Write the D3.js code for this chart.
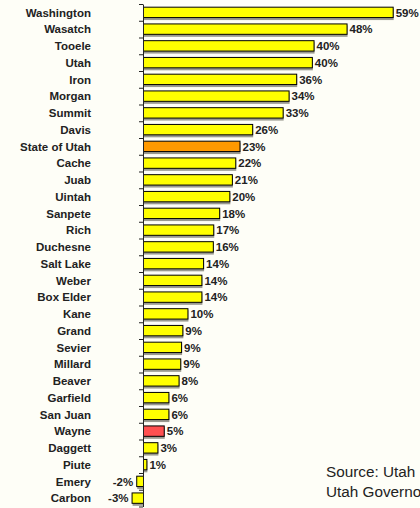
<!DOCTYPE html>
<html>
<head>
<meta charset="utf-8">
<script src="https://cdn.jsdelivr.net/npm/d3@7"></script>
<style>
  html, body { margin: 0; padding: 0; background: #fefef7; }
  svg { display: block; }
  text { font-family: "Liberation Sans", Arial, sans-serif; }
</style>
</head>
<body>
<svg id="chart" width="420" height="508"></svg>
<script>
const categories = ["Washington","Wasatch","Tooele","Utah","Iron","Morgan","Summit","Davis","State of Utah","Cache","Juab","Uintah","Sanpete","Rich","Duchesne","Salt Lake","Weber","Box Elder","Kane","Grand","Sevier","Millard","Beaver","Garfield","San Juan","Wayne","Daggett","Piute","Emery","Carbon"];
const values = [59.0, 48.1, 40.3, 39.9, 36.2, 34.4, 33.0, 25.8, 22.8, 21.8, 21.0, 20.4, 18.0, 16.6, 16.5, 14.2, 13.8, 13.8, 10.5, 9.3, 9.0, 8.8, 8.4, 6.0, 6.0, 4.9, 3.4, 0.8, -1.6, -2.7];
const labels = ["59%","48%","40%","40%","36%","34%","33%","26%","23%","22%","21%","20%","18%","17%","16%","14%","14%","14%","10%","9%","9%","9%","8%","6%","6%","5%","3%","1%","-2%","-3%"];
const sourceLines = ["Source: Utah Population Estimates Committee", "Utah Governor's Office of Planning and Budget"];

const data = categories.map((c, i) => ({ name: c, value: values[i], label: labels[i] }));
const fillFor = name => name === "State of Utah" ? "#ff9900" : (name === "Wayne" ? "#ff5050" : "#ffff00");

const svg = d3.select("#chart");
const yTop = 4, yBottom = 506.5;

const x = d3.scaleLinear().domain([-5, 60]).range([121.84, 396.92]);
const y = d3.scaleBand().domain(categories).range([yTop, yBottom]).paddingInner(0.32).paddingOuter(0.16);
const yIdx = d3.scaleLinear().domain([0, categories.length]).range([yTop, yBottom]);

// shadows
svg.append("g").selectAll("rect").data(data).join("rect")
  .attr("x", d => Math.min(x(0), x(d.value)) + 1)
  .attr("y", d => y(d.name) + 2)
  .attr("width", d => Math.abs(x(d.value) - x(0)))
  .attr("height", y.bandwidth())
  .attr("fill", "#9a9a90");

// bars
svg.append("g").selectAll("rect").data(data).join("rect")
  .attr("x", d => Math.min(x(0), x(d.value)) + 0.5)
  .attr("y", d => y(d.name) + 0.5)
  .attr("width", d => Math.abs(x(d.value) - x(0)))
  .attr("height", y.bandwidth() - 1)
  .attr("fill", d => fillFor(d.name))
  .attr("stroke", "#000")
  .attr("stroke-width", 1);

// axis
const axis = svg.append("g")
  .attr("transform", `translate(${x(0)},0)`)
  .call(d3.axisLeft(yIdx).tickValues(d3.range(categories.length + 1)).tickSize(4).tickSizeOuter(0).tickFormat(""));
axis.selectAll("path, line").attr("stroke", "#222").attr("stroke-width", 1);

// category labels
svg.append("g").selectAll("text").data(data).join("text")
  .attr("x", 91)
  .attr("y", d => y(d.name) + y.bandwidth() / 2)
  .attr("dy", "0.36em")
  .attr("text-anchor", "end")
  .attr("font-size", "11.5px")
  .attr("font-weight", "bold")
  .attr("fill", "#222")
  .text(d => d.name);

// value labels
svg.append("g").selectAll("text").data(data).join("text")
  .attr("x", d => d.value >= 0 ? x(d.value) + 3 : x(d.value) - 3)
  .attr("y", d => y(d.name) + y.bandwidth() / 2)
  .attr("dy", "0.36em")
  .attr("text-anchor", d => d.value >= 0 ? "start" : "end")
  .attr("font-size", "11.5px")
  .attr("font-weight", "bold")
  .attr("fill", "#222")
  .text(d => d.label);

// source
svg.append("g").selectAll("text").data(sourceLines).join("text")
  .attr("x", 326)
  .attr("y", (d, i) => 477 + i * 20)
  .attr("font-size", "15.3px")
  .attr("fill", "#222")
  .text(d => d);
</script>
</body>
</html>
